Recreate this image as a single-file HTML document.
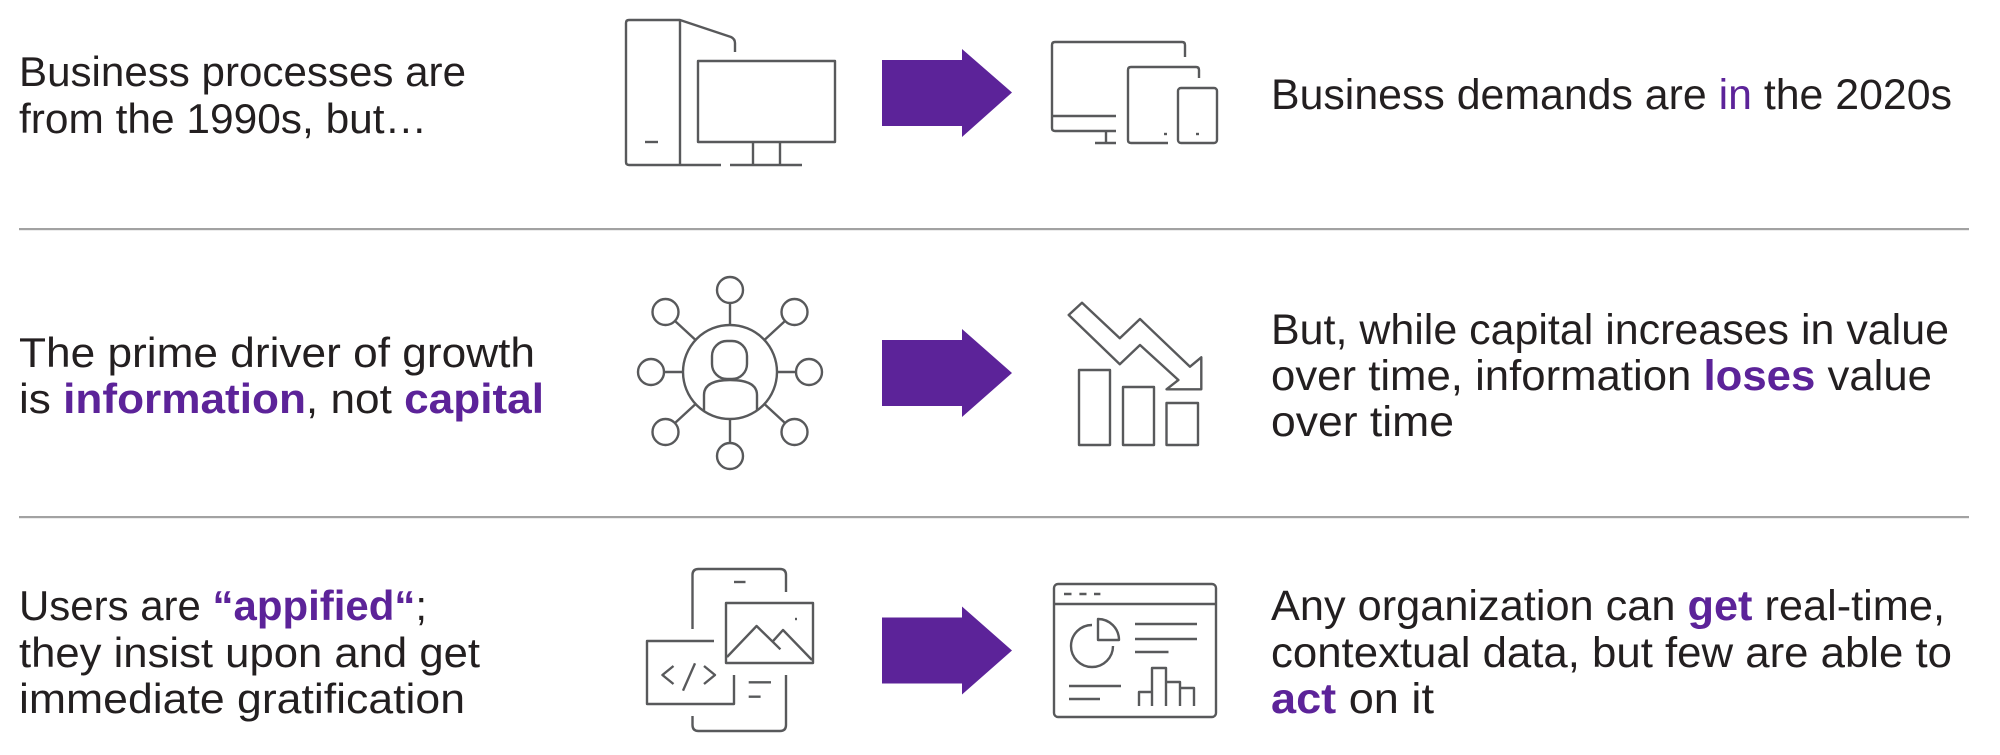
<!DOCTYPE html>
<html>
<head>
<meta charset="utf-8">
<style>
  html, body { margin: 0; padding: 0; background: #ffffff; }
  svg { display: block; }
  .t { font-family: "Liberation Sans", Arial, sans-serif; fill: #231f20; }
  .l { font-size: 42px; }
  .r { font-size: 43px; }
  .b { font-weight: bold; fill: #5c2399; }
  .p { fill: #5c2399; }
  .ic { fill: none; stroke: #58595b; stroke-width: 2.4; stroke-linecap: butt; stroke-linejoin: round; }
</style>
</head>
<body>
<svg width="2000" height="755" viewBox="0 0 2000 755" xmlns="http://www.w3.org/2000/svg">
  <rect width="2000" height="755" fill="#ffffff"/>

  <!-- separators -->
  <rect x="19" y="228" width="1950" height="2.2" fill="#a2a2a2"/>
  <rect x="19" y="516" width="1950" height="2.2" fill="#a2a2a2"/>

  <!-- ROW 1 TEXT -->
  <text class="t l" x="19" y="86" textLength="447" lengthAdjust="spacingAndGlyphs">Business processes are</text>
  <text class="t l" x="19" y="133" textLength="408" lengthAdjust="spacingAndGlyphs">from the 1990s, but…</text>
  <text class="t r" x="1271" y="109" textLength="681" lengthAdjust="spacingAndGlyphs">Business demands are <tspan class="p">in</tspan> the 2020s</text>

  <!-- ROW 2 TEXT -->
  <text class="t l" x="19" y="367" textLength="516" lengthAdjust="spacingAndGlyphs">The prime driver of growth</text>
  <text class="t l" x="19" y="413" textLength="525" lengthAdjust="spacingAndGlyphs">is <tspan class="b">information</tspan>, not <tspan class="b">capital</tspan></text>
  <text class="t r" x="1271" y="344" textLength="678" lengthAdjust="spacingAndGlyphs">But, while capital increases in value</text>
  <text class="t r" x="1271" y="390" textLength="661" lengthAdjust="spacingAndGlyphs">over time, information <tspan class="b">loses</tspan> value</text>
  <text class="t r" x="1271" y="436" textLength="183" lengthAdjust="spacingAndGlyphs">over time</text>

  <!-- ROW 3 TEXT -->
  <text class="t l" x="19" y="620" textLength="408" lengthAdjust="spacingAndGlyphs">Users are <tspan class="b">“appified“</tspan>;</text>
  <text class="t l" x="19" y="667" textLength="461" lengthAdjust="spacingAndGlyphs">they insist upon and get</text>
  <text class="t l" x="19" y="713" textLength="446" lengthAdjust="spacingAndGlyphs">immediate gratification</text>
  <text class="t r" x="1271" y="620" textLength="674" lengthAdjust="spacingAndGlyphs">Any organization can <tspan class="b">get</tspan> real-time,</text>
  <text class="t r" x="1271" y="667" textLength="681" lengthAdjust="spacingAndGlyphs">contextual data, but few are able to</text>
  <text class="t r" x="1271" y="713" textLength="163" lengthAdjust="spacingAndGlyphs"><tspan class="b">act</tspan> on it</text>

  <!-- ARROWS -->
  <polygon fill="#5c2399" points="882,60 962,60 962,49 1012,92.5 962,137 962,126 882,126"/>
  <polygon fill="#5c2399" points="882,340 962,340 962,329 1012,373 962,417 962,406 882,406"/>
  <polygon fill="#5c2399" points="882,617.5 962,617.5 962,606.5 1012,650.5 962,694.5 962,683.5 882,683.5"/>

  <!-- ICON: tower + monitor -->
  <g class="ic">
    <path d="M721,165 H629 Q626,165 626,162 V23 Q626,20 629,20 H680 L731,37 Q735,39 735,43 V52"/>
    <path d="M680,20 V165"/>
    <path d="M645,142 H658"/>
    <rect x="698" y="61" width="137" height="81"/>
    <path d="M753,142 V165 M780,142 V165"/>
    <path d="M730,165 H802"/>
  </g>

  <!-- ICON: devices -->
  <g class="ic">
    <path d="M1185,57 V45 Q1185,42 1182,42 H1055 Q1052,42 1052,45 V128 Q1052,131 1055,131 H1116"/>
    <path d="M1052,116 H1116"/>
    <path d="M1106,131 V143 M1095,143 H1116"/>
    <path d="M1199,78 V70 Q1199,67 1196,67 H1131 Q1128,67 1128,70 V140 Q1128,143 1131,143 H1168"/>
    <path d="M1164,134 H1167"/>
    <rect x="1178" y="88" width="39" height="55" rx="3"/>
    <path d="M1196,134 H1199"/>
  </g>

  <!-- ICON: network -->
  <g class="ic">
    <circle cx="730" cy="372" r="47"/>
    <circle cx="730" cy="290" r="13"/>
    <circle cx="730" cy="456" r="13"/>
    <circle cx="651" cy="372" r="13"/>
    <circle cx="809" cy="372" r="13"/>
    <circle cx="665.5" cy="312" r="13"/>
    <circle cx="794.5" cy="312" r="13"/>
    <circle cx="665.5" cy="432" r="13"/>
    <circle cx="794.5" cy="432" r="13"/>
    <path d="M730,303 V325 M730,419 V443 M664,372 H683 M777,372 H796"/>
    <path d="M675,321 L695.6,340 M785,321 L764.4,340 M675,423 L695.6,404 M785,423 L764.4,404"/>
    <rect x="712" y="341" width="35" height="38" rx="15"/>
    <path d="M704,411 V395 Q704,380 730,380 Q757,380 757,395 V411"/>
  </g>

  <!-- ICON: declining chart -->
  <g class="ic">
    <polygon points="1068.7,315 1082,302.7 1119.8,338.3 1140,319 1190,366.7 1201.3,357.3 1201.3,389.3 1166.5,389.3 1178.4,380 1140,345 1119.8,364.3"/>
    <rect x="1079" y="370" width="31" height="75"/>
    <rect x="1123" y="387" width="31" height="58"/>
    <rect x="1166.5" y="403" width="31.5" height="42"/>
  </g>

  <!-- ICON: app -->
  <g class="ic">
    <path d="M692.5,629 V575 Q692.5,569 698.5,569 H780 Q786,569 786,575 V592"/>
    <path d="M786,675 V725 Q786,731 780,731 H698.5 Q692.5,731 692.5,725 V716"/>
    <path d="M734,582 H745.5"/>
    <path d="M714,641 H647 V704 H734 V675"/>
    <path d="M673.5,666 L662.4,675 L673.5,684"/>
    <path d="M695,663.3 L683,690.7"/>
    <path d="M704,666 L715,675 L704,684"/>
    <rect x="726" y="603" width="87" height="60"/>
    <path d="M727,657 L756.6,626 L780.4,649.3"/>
    <path d="M772.5,641.7 L783,630 L812,660"/>
    <path d="M795,619 H797"/>
    <path d="M748.7,682.3 H771 M748.7,696.7 H760.6"/>
  </g>

  <!-- ICON: dashboard -->
  <g class="ic">
    <rect x="1054" y="584" width="162" height="133" rx="4"/>
    <path d="M1054,604 H1216"/>
    <path d="M1064,594 H1071.5 M1079.4,594 H1086.5 M1094,594 H1100.4"/>
    <path d="M1092,625 A21,21 0 1,0 1113,646"/>
    <path d="M1098,619 V640 H1119 A21,21 0 0,0 1098,619 Z"/>
    <path d="M1135,624 H1197 M1135,639 H1197 M1135,652 H1168.5"/>
    <path d="M1069,686 H1121 M1069,699 H1100"/>
    <path d="M1139,706 V692 H1152 V706 M1152,692 V668 H1166 V706 M1166,682 H1180 V706 M1180,688 H1194 V706"/>
  </g>
</svg>
</body>
</html>
